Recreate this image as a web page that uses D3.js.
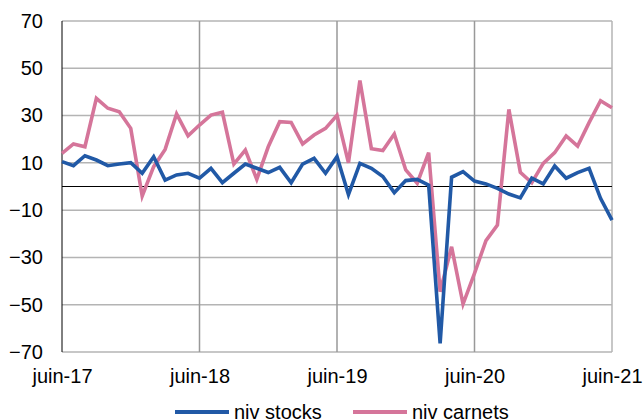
<!DOCTYPE html>
<html lang="fr">
<head>
<meta charset="utf-8">
<title>niv stocks / niv carnets</title>
<script src="https://d3js.org/d3.v7.min.js"></script>
<style>
  body { margin: 0; background: #fff; }
  text { font-family: "Liberation Sans", Arial, sans-serif; fill: #000; }
</style>
</head>
<body>
<script>
// monthly, juin-17 .. juin-21
var months = d3.range(49);
var tickLabels = ["juin-17", "juin-18", "juin-19", "juin-20", "juin-21"];
var yTicks = [70, 50, 30, 10, -10, -30, -50, -70];

var nivStocks = [10.5, 8.8, 13.0, 11.2, 8.8, 9.5, 10.1, 5.6, 12.6, 2.7, 4.9, 5.6, 3.5,
  7.7, 1.6, 5.6, 9.5, 7.7, 5.9, 8.1, 1.6, 9.5, 11.9, 5.6, 12.6,
  -3.4, 9.8, 7.7, 4.2, -2.6, 2.5, 3.0, 0.6, -66.3, 3.9, 6.3, 2.3,
  1.1, -0.8, -3.2, -4.8, 3.5, 1.1, 8.7, 3.5, 5.9, 7.7, -5.0, -14.2];

var nivCarnets = [14.0, 18.0, 16.8, 37.3, 33.1, 31.6, 24.6, -4.0, 8.4, 15.7, 30.7, 21.4, 26.0,
  30.2, 31.4, 9.5, 15.4, 3.0, 16.8, 27.4, 27.1, 18.0, 21.8, 24.6, 30.1,
  10.0, 44.8, 16.0, 15.2, 22.2, 7.0, 1.4, 14.3, -44.5, -25.5, -49.7, -36.7,
  -22.9, -16.3, 32.6, 6.0, 1.6, 9.8, 14.3, 21.4, 17.1, 27.0, 36.3, 33.3];

var series = [
  { name: "niv stocks", values: nivStocks, color: "#2159a6" },
  { name: "niv carnets", values: nivCarnets, color: "#d5759a" }
];

var W = 643, H = 420;
var margin = { left: 62, right: 31, top: 21, bottom: 68 };

var svg = d3.select("body").append("svg")
  .attr("width", W)
  .attr("height", H);

var x = d3.scaleLinear()
  .domain([0, 48])
  .range([margin.left, W - margin.right]);

var y = d3.scaleLinear()
  .domain([-70, 70])
  .range([H - margin.bottom, margin.top]);

// horizontal grid
svg.append("g")
  .selectAll("line")
  .data(yTicks)
  .enter()
  .append("line")
  .attr("x1", x(0)).attr("x2", x(48))
  .attr("y1", function (d) { return y(d); })
  .attr("y2", function (d) { return y(d); })
  .attr("stroke", "#b4b4b4")
  .attr("stroke-width", 1.5);

// vertical grid (every 12 months)
svg.append("g")
  .selectAll("line")
  .data([12, 24, 36, 48])
  .enter()
  .append("line")
  .attr("x1", function (d) { return x(d); })
  .attr("x2", function (d) { return x(d); })
  .attr("y1", y(70)).attr("y2", y(-70))
  .attr("stroke", function (d) { return d === 48 ? "#b4b4b4" : "#999"; })
  .attr("stroke-width", 1.5);

// left axis line
svg.append("line")
  .attr("x1", x(0)).attr("x2", x(0))
  .attr("y1", y(70)).attr("y2", y(-70))
  .attr("stroke", "#000")
  .attr("stroke-width", 1);

// zero line
svg.append("line")
  .attr("x1", x(0)).attr("x2", x(48))
  .attr("y1", y(0)).attr("y2", y(0))
  .attr("stroke", "#000")
  .attr("stroke-width", 1);

// y labels
var yAxis = svg.append("g")
  .attr("transform", "translate(43,0)")
  .call(d3.axisLeft(y).tickValues(yTicks).tickSize(0).tickPadding(0).tickFormat(d3.format("d")));
yAxis.select(".domain").remove();
yAxis.selectAll("text").style("font-size", "20px").attr("fill", "#000")
  .style("font-family", "'Liberation Sans', Arial, sans-serif");

// x labels
var xAxis = svg.append("g")
  .attr("transform", "translate(0," + (y(-70) + 17) + ")")
  .call(d3.axisBottom(x).tickValues([0, 12, 24, 36, 48]).tickSize(0).tickPadding(0)
    .tickFormat(function (d, i) { return tickLabels[i]; }));
xAxis.select(".domain").remove();
xAxis.selectAll("text").style("font-size", "20px").attr("fill", "#000")
  .style("font-family", "'Liberation Sans', Arial, sans-serif");

// lines
var line = d3.line()
  .x(function (d, i) { return x(months[i]); })
  .y(function (d) { return y(d); });

svg.append("g")
  .selectAll("path")
  .data(series.slice().reverse())
  .enter()
  .append("path")
  .attr("d", function (s) { return line(s.values); })
  .attr("fill", "none")
  .attr("stroke", function (s) { return s.color; })
  .attr("stroke-width", 3.6)
  .attr("stroke-linejoin", "miter");

// legend
var legend = svg.append("g").attr("transform", "translate(0,412)");
var legX = [175, 353];
series.forEach(function (s, i) {
  legend.append("line")
    .attr("x1", legX[i]).attr("x2", legX[i] + 54)
    .attr("y1", 0).attr("y2", 0)
    .attr("stroke", s.color)
    .attr("stroke-width", 4);
  legend.append("text")
    .attr("x", legX[i] + 59)
    .attr("y", 7)
    .style("font-size", "20px")
    .text(s.name);
});
</script>
</body>
</html>
